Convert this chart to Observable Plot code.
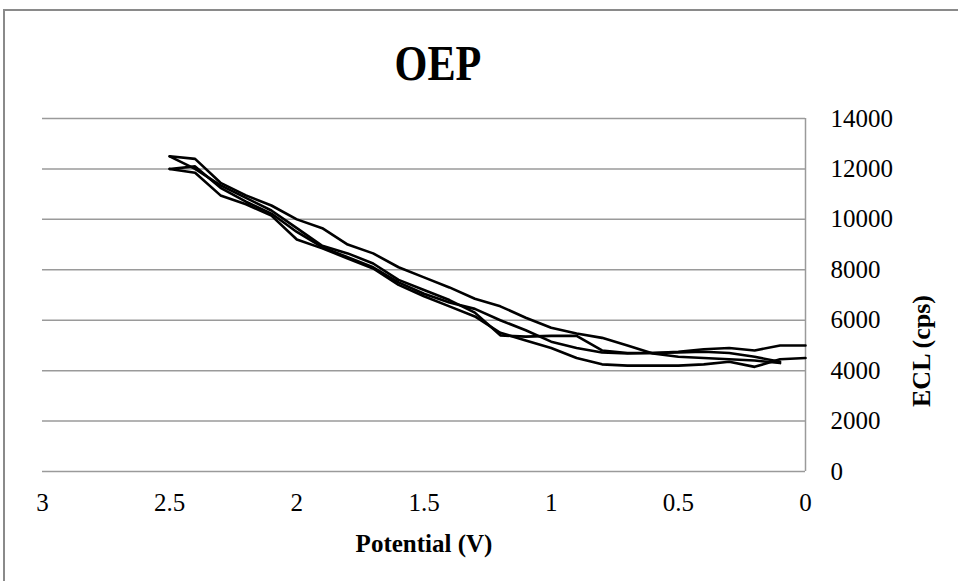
<!DOCTYPE html>
<html>
<head>
<meta charset="utf-8">
<script src="https://cdn.jsdelivr.net/npm/d3@7"></script>
<script src="https://cdn.jsdelivr.net/npm/@observablehq/plot@0.6"></script>
<style>
  html, body { margin: 0; padding: 0; background: #fff; }
  #wrap { position: relative; width: 958px; height: 581px; overflow: hidden; background: #fff; }
  #border { position: absolute; left: 3px; top: 9px; width: 2000px; height: 2000px;
            border-left: 2px solid #8a8a8a; border-top: 2px solid #8a8a8a; pointer-events: none; }
  #title { position: relative; height: 100px; }
  #title div { position: absolute; left: 0; width: 876px; top: 36px; line-height: 48px;
               text-align: center; font: bold 48px "Liberation Serif", "Times New Roman", serif; color: #000;
               transform: scale(0.88, 1.06); transform-origin: 438px 40px; }
  svg { display: block; }
  #chart svg, #chart svg text { font-family: "Liberation Serif", "Times New Roman", serif !important; }
</style>
</head>
<body>
<div id="wrap">
  <div id="title"><div>OEP</div></div>
  <div id="chart"></div>
  <div id="border"></div>
</div>
<script>
// Potential (V), 0.1 V steps
const potential = [2.5, 2.4, 2.3, 2.2, 2.1, 2.0, 1.9, 1.8, 1.7, 1.6, 1.5, 1.4, 1.3, 1.2, 1.1, 1.0, 0.9, 0.8, 0.7, 0.6, 0.5, 0.4, 0.3, 0.2, 0.1, 0.0];
// ECL (cps) for four runs
const run1 = [12500, 12400, 11450, 10950, 10550, 10000, 9650, 9000, 8650, 8100, 7700, 7300, 6850, 6550, 6100, 5700, 5470, 5300, 5000, 4680, 4550, 4500, 4450, 4400, 4300, null];
const run2 = [12500, 12000, 11350, 10850, 10350, 9650, 8950, 8650, 8250, 7600, 7200, 6800, 6300, 5400, 5350, 5380, 5380, 4800, 4700, 4700, 4750, 4850, 4900, 4800, 5000, 5000];
const run3 = [12000, 12100, 11250, 10700, 10230, 9500, 8900, 8500, 8100, 7500, 7050, 6700, 6450, 6000, 5600, 5150, 4900, 4720, 4680, 4700, 4720, 4750, 4700, 4550, 4350, null];
const run4 = [12000, 11850, 10950, 10600, 10150, 9200, 8850, 8450, 8050, 7400, 6950, 6550, 6150, 5500, 5200, 4900, 4500, 4250, 4200, 4200, 4200, 4250, 4350, 4150, 4450, 4500];
const runNames = ["Run 1", "Run 2", "Run 3", "Run 4"];
const xTicks = [0, 0.5, 1, 1.5, 2, 2.5, 3];
const yTicks = [0, 2000, 4000, 6000, 8000, 10000, 12000, 14000];
const xLabel = "Potential (V)";
const yLabel = "ECL (cps)";

const runs = [run1, run2, run3, run4];
const table = runs.flatMap((vals, i) =>
  potential.map((v, j) => ({run: runNames[i], v, ecl: vals[j]})).filter(d => d.ecl != null)
);

const serif = '"Liberation Serif", "Times New Roman", serif';

const chart = Plot.plot({
  width: 958,
  height: 481,
  marginLeft: 42,
  marginRight: 153,
  marginTop: 18,
  marginBottom: 110,
  style: {fontSize: "25px", color: "#000", background: "#fff", overflow: "visible"},
  x: {domain: [0, 3], reverse: true},
  y: {domain: [0, 14000]},
  marks: [
    Plot.gridY(yTicks, {stroke: "#9a9a9a", strokeOpacity: 1, strokeWidth: 1.5}),
    Plot.ruleX([0], {stroke: "#9a9a9a", strokeWidth: 1.5}),
    Plot.axisX(xTicks, {tickSize: 0, tickPadding: 22, tickFormat: d => String(d), label: null, fontSize: 25, fontFamily: serif}),
    Plot.axisY(yTicks, {anchor: "right", tickSize: 0, tickPadding: 25, tickFormat: d => String(d), label: null, fontSize: 25, fontFamily: serif}),
    Plot.line(table, {x: "v", y: "ecl", z: "run", stroke: "#000", strokeWidth: 2.6, strokeLinejoin: "round"}),
    Plot.text([xLabel], {frameAnchor: "bottom", dy: 72, lineAnchor: "middle", fontWeight: "bold", fontSize: 25, fontFamily: serif}),
    Plot.text([yLabel], {frameAnchor: "right", dx: 116, rotate: -90, lineAnchor: "middle", fontWeight: "bold", fontSize: 26, fontFamily: serif})
  ]
});
document.getElementById("chart").appendChild(chart);
</script>
</body>
</html>
